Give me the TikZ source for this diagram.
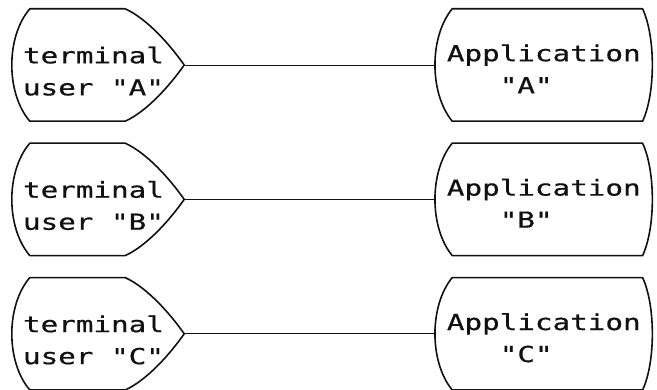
\documentclass[tikz,border=0pt]{standalone}
\usepackage{fontspec}
\usepackage{tikz}
\usetikzlibrary{positioning}
\newfontfamily\plotter[FakeStretch=1.33,FakeBold=0.6]{DejaVu Sans Mono}
\definecolor{ink}{HTML}{111111}
\newcommand{\gap}{\phantom{x}}
\tikzset{
  outline/.style={draw=ink,line width=1.6pt,line join=round,line cap=round},
  link/.style={draw=ink,line width=0.9pt},
  plotted/.style={font=\plotter\fontsize{22}{32}\selectfont,text=ink,
                  minimum height=112pt,align=left,
                  execute at begin node=\rule{0pt}{29pt}},
  terminal/.style={plotted,minimum width=172pt,text width=150pt,
    append after command={\pgfextra{\pgfinterruptpath
      \draw[outline] ([xshift=18pt]\tikzlastnode.north west)
        -- ([xshift=-59pt]\tikzlastnode.north east)
        .. controls +(22pt,-10pt) and +(-14pt,20pt) .. (\tikzlastnode.east)
        .. controls +(-14pt,-20pt) and +(22pt,10pt) .. ([xshift=-59pt]\tikzlastnode.south east)
        -- ([xshift=18pt]\tikzlastnode.south west)
        .. controls +(-24pt,28pt) and +(-24pt,-28pt) .. ([xshift=18pt]\tikzlastnode.north west)
        -- cycle;
    \endpgfinterruptpath}}},
  application/.style={plotted,minimum width=217pt,text width=194pt,
    append after command={\pgfextra{\pgfinterruptpath
      \draw[outline] ([xshift=17pt]\tikzlastnode.north west)
        -- ([xshift=-10pt]\tikzlastnode.north east)
        .. controls +(13pt,-28pt) and +(13pt,28pt) .. ([xshift=-10pt]\tikzlastnode.south east)
        -- ([xshift=17pt]\tikzlastnode.south west)
        .. controls +(-23pt,28pt) and +(-23pt,-28pt) .. ([xshift=17pt]\tikzlastnode.north west)
        -- cycle;
    \endpgfinterruptpath}}}
}

\begin{document}
\begin{tikzpicture}
\useasboundingbox (0,0) rectangle (657pt,-390pt);
\node[terminal] (tA) at (98pt,-65pt) {terminal\\user\gap"A"};
\node[terminal,below=22pt of tA] (tB) {terminal\\user\gap"B"};
\node[terminal,below=22pt of tB] (tC) {terminal\\user\gap"C"};
\node[application,right=251pt of tA] (aA) {Application\\\phantom{App}"A"};
\node[application,right=251pt of tB] (aB) {Application\\\phantom{App}"B"};
\node[application,right=251pt of tC] (aC) {Application\\\phantom{App}"C"};
\draw[link] (tA)--(aA);
\draw[link] (tB)--(aB);
\draw[link] (tC)--(aC);
\end{tikzpicture}
\end{document}
